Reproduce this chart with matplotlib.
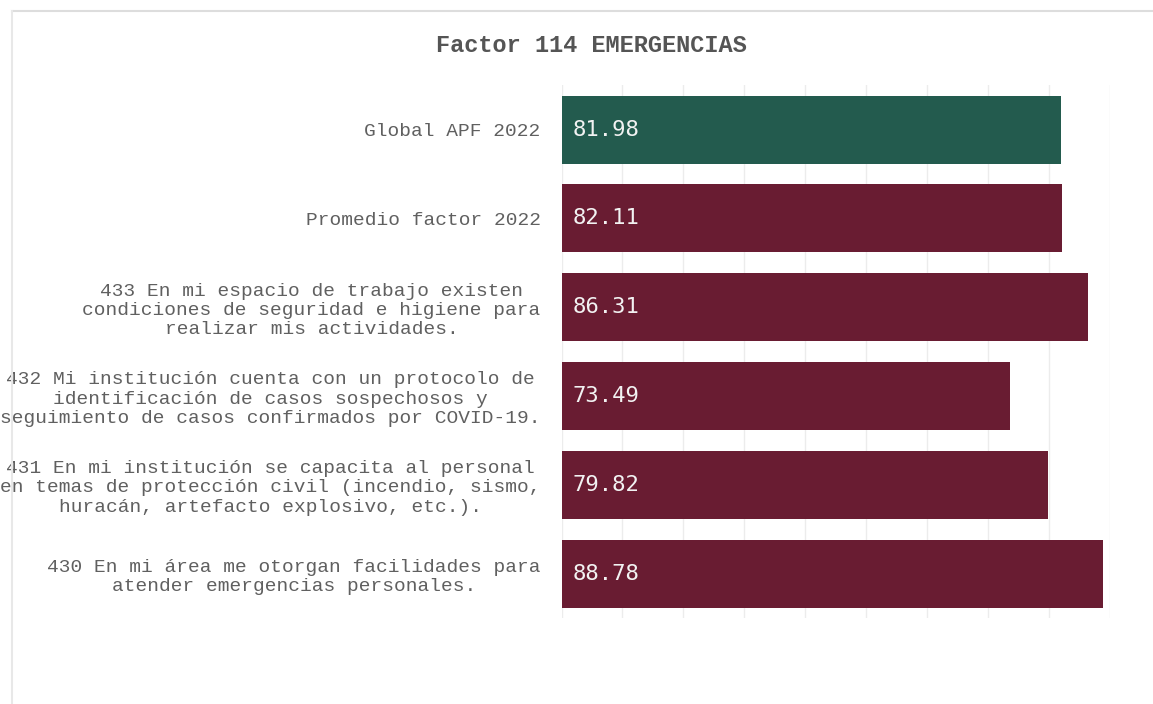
import matplotlib.pyplot as plt
from matplotlib.lines import Line2D

plt.rcParams['font.family'] = ['Liberation Mono', 'DejaVu Sans Mono']

titulo = "Factor 114 EMERGENCIAS"
etiquetas = [
    "Global APF 2022",
    "Promedio factor 2022",
    "433 En mi espacio de trabajo existen\ncondiciones de seguridad e higiene para\nrealizar mis actividades.",
    "432 Mi institución cuenta con un protocolo de\nidentificación de casos sospechosos y\nseguimiento de casos confirmados por COVID-19.",
    "431 En mi institución se capacita al personal\nen temas de protección civil (incendio, sismo,\nhuracán, artefacto explosivo, etc.).",
    "430 En mi área me otorgan facilidades para\natender emergencias personales.",
]
valores = [81.98, 82.11, 86.31, 73.49, 79.82, 88.78]
colores = ['#235B4E', '#691C32', '#691C32', '#691C32', '#691C32', '#691C32']

fig = plt.figure(figsize=(11.53, 7.04), dpi=100)
ax = fig.add_axes([0.487, 0.122, 0.476, 0.757])

pos = list(range(len(valores)))
ax.barh(pos, valores, height=0.765, color=colores, zorder=2)
ax.set_xlim(0, 90)
ax.set_ylim(len(valores) - 0.5, -0.5)

ax.set_xticks(range(0, 91, 10))
ax.set_xticklabels([])
ax.grid(axis='x', color='#ececec', linewidth=1, zorder=0)
ax.tick_params(length=0)
for s in ax.spines.values():
    s.set_visible(False)

ax.set_yticks(pos)
ax.set_yticklabels(etiquetas, fontsize=14, color='#606060',
                   multialignment='center', linespacing=1.17)
ax.tick_params(axis='y', pad=15)

for p, v in zip(pos, valores):
    ax.annotate(f"{v:.2f}", (0, p), xytext=(8, 0), textcoords='offset points',
                va='center', ha='left', fontsize=16, color='#f2f2f2',
                family='DejaVu Sans Mono')

fig.text(0.513, 0.936, titulo, ha='center', va='center', fontsize=17,
         fontweight='bold', color='#555555')

# marco claro superior e izquierdo
fig.add_artist(Line2D([12 / 1153, 1], [1 - 11 / 704, 1 - 11 / 704],
                      transform=fig.transFigure, color='#dddddd', linewidth=1.5))
fig.add_artist(Line2D([12 / 1153, 12 / 1153], [0, 1 - 11 / 704],
                      transform=fig.transFigure, color='#e8e8e8', linewidth=1.5))

fig.savefig('out.png', dpi=100)
